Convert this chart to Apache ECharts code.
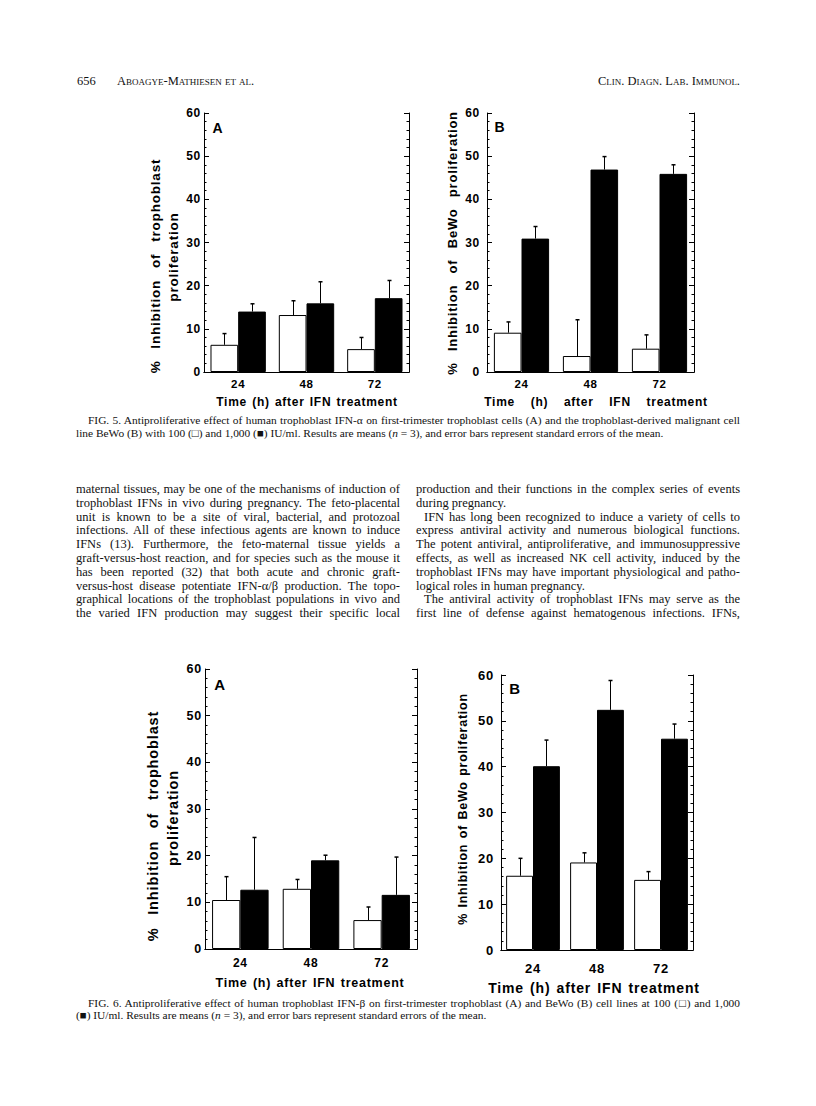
<!DOCTYPE html>
<html>
<head>
<meta charset="utf-8">
<script src="https://cdn.jsdelivr.net/npm/echarts@6/dist/echarts.min.js"></script>
<style>
  html, body { margin:0; padding:0; background:#fff; }
  body { width:816px; height:1106px; position:relative; overflow:hidden; }
  #chart { position:absolute; left:0; top:0; width:816px; height:1106px; }
  #chart svg text { letter-spacing:0.06em; word-spacing:0.1em; }
  .t { position:absolute; font-family:"Liberation Serif","Times New Roman",serif; color:#111; line-height:14px; height:14px; }
  .body { font-size:12.5px; text-align:justify; text-align-last:justify; }
  .body.last { text-align-last:left; }
  .cap { font-size:11.4px; text-align:justify; text-align-last:justify; line-height:12px; height:12px; }
  .cap.last { text-align-last:left; }
  .hdr { font-size:12.5px; }
  .sc { font-variant:small-caps; }
</style>
</head>
<body>
<div id="chart"></div>

<div class="t hdr" style="left:77px;top:74px;">656</div>
<div class="t hdr sc" style="left:117px;top:74px;">Aboagye-Mathiesen et al.</div>
<div class="t hdr sc" style="left:540px;top:74px;width:200px;text-align:right;">Clin. Diagn. Lab. Immunol.</div>

<div class="t cap" style="left:88px;top:414px;width:652px;">FIG. 5. Antiproliferative effect of human trophoblast IFN-α on first-trimester trophoblast cells (A) and the trophoblast-derived malignant cell</div>
<div class="t cap last" style="left:76px;top:427px;width:664px;">line BeWo (B) with 100 (□) and 1,000 (■) IU/ml. Results are means (<i>n</i> = 3), and error bars represent standard errors of the mean.</div>

<div id="colL"></div>
<div id="colR"></div>

<div class="t cap" style="left:88px;top:997px;width:652px;">FIG. 6. Antiproliferative effect of human trophoblast IFN-β on first-trimester trophoblast (A) and BeWo (B) cell lines at 100 (□) and 1,000</div>
<div class="t cap last" style="left:76px;top:1009px;width:664px;">(■) IU/ml. Results are means (<i>n</i> = 3), and error bars represent standard errors of the mean.</div>

<script>
// ---------------- DATA ----------------
const categories = ['24', '48', '72'];           // Time (h) after IFN treatment

// Fig. 5 (IFN-alpha)  A: trophoblast, B: BeWo
const fig5A_low    = [6.3, 13.2, 5.3];   // 100 IU/ml (open bars)
const fig5A_lowSE  = [2.6, 3.3, 2.7];
const fig5A_high   = [14.0, 15.9, 17.1]; // 1,000 IU/ml (filled bars)
const fig5A_highSE = [1.8, 5.0, 4.1];

const fig5B_low    = [9.1, 3.7, 5.4];
const fig5B_lowSE  = [2.5, 8.4, 3.2];
const fig5B_high   = [30.9, 46.9, 45.9];
const fig5B_highSE = [2.8, 3.0, 2.1];

// Fig. 6 (IFN-beta)
const fig6A_low    = [10.5, 12.9, 6.2];
const fig6A_lowSE  = [5.0, 2.0, 2.8];
const fig6A_high   = [12.7, 19.0, 11.6];
const fig6A_highSE = [11.2, 1.1, 8.1];

const fig6B_low    = [16.2, 19.1, 15.3];
const fig6B_lowSE  = [3.8, 2.1, 1.8];
const fig6B_high   = [40.1, 52.4, 46.1];
const fig6B_highSE = [5.7, 6.4, 3.2];

const yMin = 0, yMax = 60, yInterval = 10;

const NB = '\u00a0';
const xTitle = 'Time (h) after IFN treatment';
const xTitleWide = ['Time', '(h)', 'after', 'IFN', 'treatment'].join(NB + NB + NB);
const yTitleTropho = ['%' + NB + ' Inhibition' + NB + ' of' + NB + ' trophoblast', 'proliferation'];
const yTitleBeWoWide = ['%', 'Inhibition', 'of', 'BeWo', 'proliferation'].join(NB + ' ');
const yTitleBeWo = '% Inhibition of BeWo proliferation';

// body text lines (left and right columns)
const leftLines = [
  'maternal tissues, may be one of the mechanisms of induction of',
  'trophoblast IFNs in vivo during pregnancy. The feto-placental',
  'unit is known to be a site of viral, bacterial, and protozoal',
  'infections. All of these infectious agents are known to induce',
  'IFNs (13). Furthermore, the feto-maternal tissue yields a',
  'graft-versus-host reaction, and for species such as the mouse it',
  'has been reported (32) that both acute and chronic graft-',
  'versus-host disease potentiate IFN-α/β production. The topo-',
  'graphical locations of the trophoblast populations in vivo and',
  'the varied IFN production may suggest their specific local'
];
const rightLines = [
  ['production and their functions in the complex series of events', 0, false],
  ['during pregnancy.', 0, true],
  ['IFN has long been recognized to induce a variety of cells to', 8, false],
  ['express antiviral activity and numerous biological functions.', 0, false],
  ['The potent antiviral, antiproliferative, and immunosuppressive', 0, false],
  ['effects, as well as increased NK cell activity, induced by the', 0, false],
  ['trophoblast IFNs may have important physiological and patho-', 0, false],
  ['logical roles in human pregnancy.', 0, true],
  ['The antiviral activity of trophoblast IFNs may serve as the', 8, false],
  ['first line of defense against hematogenous infections. IFNs,', 0, false]
];

// ---------------- TEXT COLUMNS ----------------
function addLines(containerId, lines, left, width) {
  const c = document.getElementById(containerId);
  lines.forEach(function (ln, i) {
    const item = Array.isArray(ln) ? ln : [ln, 0, false];
    const d = document.createElement('div');
    d.className = 't body' + (item[2] ? ' last' : '');
    d.style.left = (left + item[1]) + 'px';
    d.style.width = (width - item[1]) + 'px';
    d.style.top = (482 + i * 13.8) + 'px';
    d.textContent = item[0];
    c.appendChild(d);
  });
}
addLines('colL', leftLines, 76, 324);
addLines('colR', rightLines, 416, 324);

// ---------------- CHART ----------------
const FONT = '"Liberation Sans", Arial, sans-serif';
const panels = [
  { grid: {left:204, top:113, width:205, height:259}, low:fig5A_low, lowSE:fig5A_lowSE, high:fig5A_high, highSE:fig5A_highSE,
    gap:19, tickFont:12, catFont:11.5, yMargin:3, xMargin:6 },
  { grid: {left:487, top:113, width:207, height:259}, low:fig5B_low, lowSE:fig5B_lowSE, high:fig5B_high, highSE:fig5B_highSE,
    gap:20, tickFont:12, catFont:11.5, yMargin:7, xMargin:6 },
  { grid: {left:205, top:669, width:212, height:280}, low:fig6A_low, lowSE:fig6A_lowSE, high:fig6A_high, highSE:fig6A_highSE,
    gap:20, tickFont:12.5, catFont:12, yMargin:3, xMargin:8 },
  { grid: {left:501, top:675, width:192, height:275}, low:fig6B_low, lowSE:fig6B_lowSE, high:fig6B_high, highSE:fig6B_highSE,
    gap:16, tickFont:13, catFont:13, yMargin:7, xMargin:12 }
];

const black = '#000';
const grids = [], xAxes = [], yAxes = [], series = [];

function errRender(sign, gapPct) {
  return function (params, api) {
    const idx = api.value(0);
    const lo = api.coord([idx, api.value(1)]);
    const hi = api.coord([idx, api.value(2)]);
    const band = api.size([1, 0])[0];
    const bw = band * (1 - gapPct / 100) / 2;
    const x = Math.round(lo[0] + sign * bw / 2) + 0.5;
    return {
      type: 'group',
      children: [
        { type:'line', shape:{x1:x, y1:lo[1], x2:x, y2:hi[1]}, style:{stroke:black, lineWidth:1} },
        { type:'line', shape:{x1:x-2, y1:hi[1], x2:x+2, y2:hi[1]}, style:{stroke:black, lineWidth:1.5} }
      ]
    };
  };
}

panels.forEach(function (p, i) {
  grids.push(Object.assign({containLabel:false}, p.grid));
  const lineStyle = {color:black, width:1};
  xAxes.push({
    type:'category', gridIndex:i, data:categories, position:'bottom',
    axisLine:{lineStyle:lineStyle}, axisTick:{inside:true, length:4, lineStyle:lineStyle},
    axisLabel:{color:black, fontFamily:FONT, fontWeight:'bold', fontSize:p.catFont, margin:p.xMargin},
    splitLine:{show:false}
  });
  xAxes.push({
    type:'category', gridIndex:i, data:categories, position:'top',
    axisLine:{lineStyle:lineStyle}, axisTick:{inside:true, length:4, lineStyle:lineStyle},
    axisLabel:{show:false}, splitLine:{show:false}
  });
  ['left', 'right'].forEach(function (pos) {
    yAxes.push({
      type:'value', gridIndex:i, min:yMin, max:yMax, interval:yInterval, position:pos,
      axisLine:{show:true, lineStyle:lineStyle},
      axisTick:{show:true, inside:true, length:5, lineStyle:lineStyle},
      minorTick:{show:true, splitNumber:5, length:2.5, lineStyle:{color:black, width:1}},
      splitLine:{show:false},
      axisLabel: pos === 'left'
        ? {color:black, fontFamily:FONT, fontWeight:'bold', fontSize:p.tickFont, margin:p.yMargin}
        : {show:false}
    });
  });
  series.push({
    name:'100 IU/ml', type:'bar', xAxisIndex:2*i, yAxisIndex:2*i, data:p.low,
    barGap:'0%', barCategoryGap:p.gap + '%',
    itemStyle:{color:'#fff', borderColor:black, borderWidth:1}, z:2
  });
  series.push({
    name:'1,000 IU/ml', type:'bar', xAxisIndex:2*i, yAxisIndex:2*i, data:p.high,
    barGap:'0%', barCategoryGap:p.gap + '%',
    itemStyle:{color:black, borderColor:black, borderWidth:1}, z:2
  });
  series.push({
    type:'custom', xAxisIndex:2*i, yAxisIndex:2*i, z:3,
    renderItem: errRender(-1, p.gap), encode:{x:0, y:[1, 2]},
    data: p.low.map(function (v, k) { return [k, v, v + p.lowSE[k]]; })
  });
  series.push({
    type:'custom', xAxisIndex:2*i, yAxisIndex:2*i, z:3,
    renderItem: errRender(1, p.gap), encode:{x:0, y:[1, 2]},
    data: p.high.map(function (v, k) { return [k, v, v + p.highSE[k]]; })
  });
});

function txt(s, x, y, size, rot) {
  return {
    type:'text', x:x, y:y, rotation: rot ? Math.PI / 2 : 0, silent:true, z:10,
    style:{ text:s, fill:black, fontFamily:FONT, fontWeight:'bold', fontSize:size,
            align:'center', verticalAlign:'middle', textAlign:'center', textVerticalAlign:'middle' }
  };
}

const graphics = [
  txt('A', 218, 128, 14), txt('B', 500, 127, 14), txt('A', 220, 684, 15), txt('B', 515, 688, 15),
  txt(xTitle, 307, 402, 12), txt(xTitleWide, 596, 402, 12), txt(xTitle, 310, 983, 12.5), txt(xTitle, 594, 988, 14),
  txt(yTitleTropho[0], 155, 266, 13.5, true), txt(yTitleTropho[1], 173, 257, 13.5, true),
  txt(yTitleBeWoWide, 452, 243, 13, true),
  txt(yTitleTropho[0], 153, 826, 14.5, true), txt(yTitleTropho[1], 173, 818, 14.5, true),
  txt(yTitleBeWo, 463, 809, 12.5, true)
];

const chart = echarts.init(document.getElementById('chart'), null, {renderer:'svg', width:816, height:1106});
chart.setOption({
  animation:false,
  backgroundColor:'transparent',
  grid:grids, xAxis:xAxes, yAxis:yAxes, series:series, graphic:graphics
});
</script>
</body>
</html>
